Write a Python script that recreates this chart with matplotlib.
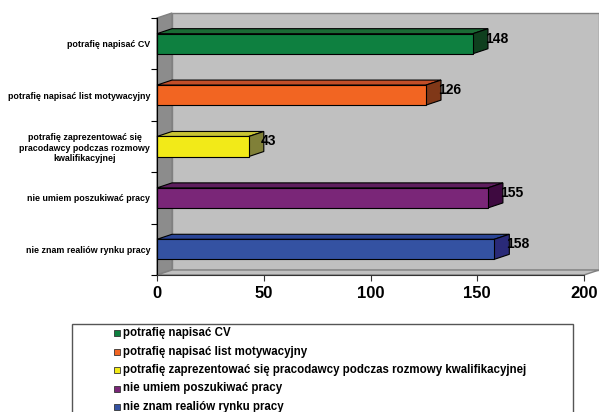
import matplotlib
matplotlib.use("Agg")
import matplotlib.pyplot as plt
from matplotlib.patches import Polygon, Rectangle

plt.rcParams['font.family'] = ['Liberation Sans', 'DejaVu Sans']
plt.rcParams['font.weight'] = 'bold'

# Responses, listed top to bottom
categories = [
    "potrafię napisać CV",
    "potrafię napisać list motywacyjny",
    "potrafię zaprezentować się pracodawcy podczas rozmowy kwalifikacyjnej",
    "nie umiem poszukiwać pracy",
    "nie znam realiów rynku pracy",
]
tick_labels = [
    "potrafię napisać CV",
    "potrafię napisać list motywacyjny",
    "potrafię zaprezentować się\npracodawcy podczas rozmowy\nkwalifikacyjnej",
    "nie umiem poszukiwać pracy",
    "nie znam realiów rynku pracy",
]
values = [148, 126, 43, 155, 158]
x_ticks = [0, 50, 100, 150, 200]

front_colors = ["#0E8040", "#F26522", "#F2EA18", "#7A2678", "#3452A2"]
top_colors = ["#1B6B35", "#C24E28", "#C8C434", "#5E1E5E", "#2A4596"]
side_colors = ["#0F3F1E", "#803818", "#808038", "#3E0A40", "#2A2A78"]

W, H = 599, 412
fig = plt.figure(figsize=(W / 100, H / 100), dpi=100)
fig.patch.set_facecolor("white")

# Front plane of the plot in pixels
left_px, right_px, top_px, bottom_px = 157, 584, 18, 275
ax = fig.add_axes([left_px / W, 1 - bottom_px / H,
                   (right_px - left_px) / W, (bottom_px - top_px) / H])
xmax = 200
n = len(categories)
ax.set_xlim(0, xmax)
ax.set_ylim(0, n)
ax.set_facecolor("none")

# depth offset (15 px right, 5 px up) in data units
dx = 15 * xmax / (right_px - left_px)
dy = 5 * n / (bottom_px - top_px)

wall_edge = "#808080"
# back wall
ax.add_patch(Polygon([(dx, dy), (xmax + dx, dy), (xmax + dx, n + dy), (dx, n + dy)],
                     closed=True, facecolor="#C0C0C0", edgecolor=wall_edge,
                     lw=1.0, clip_on=False, zorder=0))
# left wall
ax.add_patch(Polygon([(0, 0), (dx, dy), (dx, n + dy), (0, n)],
                     closed=True, facecolor="#8C8C8C", edgecolor=wall_edge,
                     lw=1.0, clip_on=False, zorder=0.5))
# floor
ax.add_patch(Polygon([(0, 0), (xmax, 0), (xmax + dx, dy), (dx, dy)],
                     closed=True, facecolor="#C0C0C0", edgecolor=wall_edge,
                     lw=1.0, clip_on=False, zorder=0.5))

bar_h = 0.39
for i, (v, fc, tc, sc) in enumerate(zip(values, front_colors, top_colors, side_colors)):
    c = n - 0.5 - i
    y0, y1 = c - bar_h / 2, c + bar_h / 2
    ax.add_patch(Polygon([(0, y1), (v, y1), (v + dx, y1 + dy), (dx, y1 + dy)],
                         closed=True, facecolor=tc, edgecolor="black", lw=0.8,
                         clip_on=False, zorder=2))
    ax.add_patch(Polygon([(v, y0), (v, y1), (v + dx, y1 + dy), (v + dx, y0 + dy)],
                         closed=True, facecolor=sc, edgecolor="black", lw=0.8,
                         clip_on=False, zorder=2))
    ax.add_patch(Rectangle((0, y0), v, bar_h, facecolor=fc, edgecolor="black",
                           lw=0.8, clip_on=False, zorder=3))
    ax.text(v + dx - 1.5, c + 0.1, str(v), ha="left", va="center",
            fontsize=10, fontweight="bold", color="black", zorder=4)

# axes lines and ticks
for s in ["top", "right"]:
    ax.spines[s].set_visible(False)
ax.spines["left"].set_color("black")
ax.spines["bottom"].set_color("#333333")
ax.spines["left"].set_zorder(5)
ax.spines["bottom"].set_zorder(5)
ax.set_xticks(x_ticks)
ax.set_xticklabels([str(t) for t in x_ticks], fontsize=12, fontweight="bold")
ax.set_yticks(range(n + 1))
ax.set_yticklabels([])
ax.set_yticks([n - 0.5 - i for i in range(n)], minor=True)
ax.set_yticklabels(tick_labels, minor=True, fontsize=6.4, fontweight="bold",
                   multialignment="center")
ax.tick_params(axis="y", which="minor", length=0, pad=5)
ax.tick_params(axis="y", which="major", length=4, width=0.8, color="black")
ax.tick_params(axis="x", length=4, width=0.8, color="#333333", pad=4)

# legend box (runs off the bottom edge)
fig.patches.append(Rectangle((72 / W, -10 / H), (573 - 72) / W, (H - 324 + 10) / H,
                             transform=fig.transFigure, facecolor="white",
                             edgecolor="#555555", lw=1.0))
for i, (label, fc) in enumerate(zip(categories, front_colors)):
    yc = 333 + i * 18.5
    fig.patches.append(Rectangle((114 / W, 1 - (yc + 3) / H), 6 / W, 6 / H,
                                 transform=fig.transFigure, facecolor=fc,
                                 edgecolor="#333333", lw=0.6))
    fig.text(123 / W, 1 - yc / H, label, ha="left", va="center",
             fontsize=8.3, fontweight="bold", color="black")

fig.savefig("out.png", dpi=100)
